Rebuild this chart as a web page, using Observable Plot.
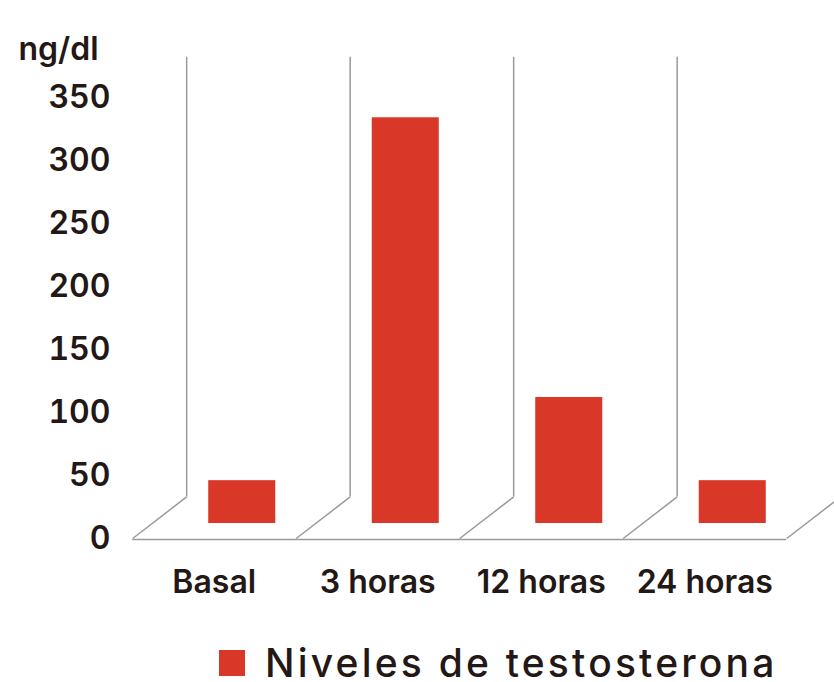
<!DOCTYPE html>
<html>
<head>
<meta charset="utf-8">
<script src="https://cdn.jsdelivr.net/npm/d3@7"></script>
<script src="https://cdn.jsdelivr.net/npm/@observablehq/plot@0.6"></script>
<style>
  html, body { margin: 0; padding: 0; background: #fff; }
  #wrap { position: relative; width: 834px; height: 682px; font-family: Inter, sans-serif; color: #231815; }
  #legend { position: absolute; left: 219px; top: 648px; height: 30px; display: flex; align-items: flex-start; font-size: 39px; line-height: 30px; font-weight: 500; letter-spacing: 3.2px; white-space: nowrap; }
  #legend .sw { width: 26px; height: 26px; background: #d93829; margin-right: 20px; margin-top: 2px; flex: none; }
</style>
</head>
<body>
<div id="wrap"><div id="chart"></div><div id="legend"><span class="sw"></span><span id="legtext"></span></div></div>
<script>
const categories = ["Basal", "3 horas", "12 horas", "24 horas"];
const values = [34, 322, 100, 34];
const yTicks = [0, 50, 100, 150, 200, 250, 300, 350];
const unitLabel = "ng/dl";
const seriesName = "Niveles de testosterona";

const barColor = "#d93829";
const inkColor = "#231815";
const floorColor = "#9a9a9a";

// 3D floor styling (in scale units)
const frontOffset = -0.17;
const backOffset = 0.16;
const floorDepth = 33;
const wallTop = 382;
const barHalf = 0.205;

const data = categories.map((c, i) => ({i, category: c, value: values[i]}));
const boundaries = d3.range(categories.length + 1).map(i => i - 0.5);

const chart = Plot.plot({
  width: 834,
  height: 630,
  marginLeft: 160,
  marginRight: 20,
  marginTop: 97,
  marginBottom: 92,
  style: {fontFamily: "Inter, sans-serif", fontSize: "32px", fontWeight: 600, color: inkColor, background: "transparent", overflow: "visible"},
  x: {type: "linear", domain: [-0.5, categories.length - 0.5], axis: null},
  y: {domain: [0, 350], ticks: yTicks, label: null},
  marks: [
    Plot.ruleX(boundaries, {x: d => d + backOffset, y1: floorDepth, y2: wallTop, stroke: floorColor, strokeWidth: 1.5}),
    Plot.link(boundaries, {x1: d => d + frontOffset, y1: 0, x2: d => d + backOffset, y2: floorDepth, stroke: floorColor, strokeWidth: 1.5}),
    Plot.ruleY([0], {x1: boundaries[0] + frontOffset, x2: boundaries[boundaries.length - 1] + frontOffset, stroke: floorColor, strokeWidth: 1.5, dy: 1}),
    Plot.rectY(data, {x1: d => d.i - barHalf, x2: d => d.i + barHalf, y1: 0, y2: "value", fill: barColor, dy: -15}),
    Plot.axisY({ticks: yTicks, tickSize: 0, tickPadding: 50, label: null, fill: inkColor, fontSize: 32, fontWeight: 600, letterSpacing: "0.8px"}),
    Plot.text(data, {x: "i", y: 0, text: "category", dx: -28, dy: 44, fill: inkColor, fontSize: 32, fontWeight: 600, letterSpacing: "1px", textAnchor: "middle"}),
    Plot.text([unitLabel], {frameAnchor: "top-left", text: d => d, dx: -142, dy: -60, textAnchor: "start", fill: inkColor, fontSize: 32, fontWeight: 600, letterSpacing: "1.2px"})
  ]
});
document.getElementById("chart").append(chart);
document.getElementById("legtext").textContent = seriesName;
</script>
</body>
</html>
